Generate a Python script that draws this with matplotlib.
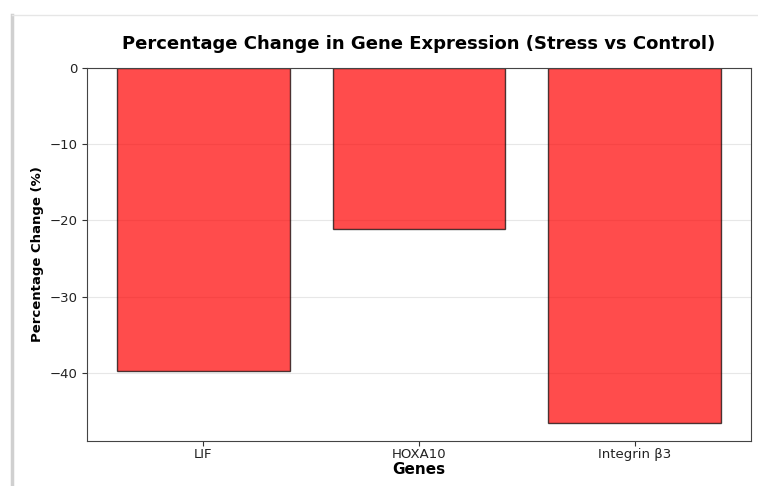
import matplotlib
matplotlib.use("Agg")
import matplotlib.pyplot as plt
from matplotlib.lines import Line2D

genes = ["LIF", "HOXA10", "Integrin β3"]
pct_change = [-39.8, -21.1, -46.6]

fig = plt.figure(figsize=(7.58, 4.86), dpi=100)
ax = fig.add_axes([87 / 758, 1 - 441 / 486, (751 - 87) / 758, (441 - 68) / 486])

ax.bar(genes, pct_change, color="red", alpha=0.7, edgecolor="black", width=0.8)
ax.set_ylim(min(pct_change) * 1.05, 0)
ax.set_yticks([0, -10, -20, -30, -40])
ax.grid(axis="y", alpha=0.3)
ax.set_axisbelow(True)
for s in ax.spines.values():
    s.set_color("#444444")
ax.tick_params(labelsize=9.5, colors="#333333", labelcolor="#222222")
ax.tick_params(axis="x", pad=1.5)
ax.set_title("Percentage Change in Gene Expression (Stress vs Control)",
             fontsize=13, fontweight="bold", pad=14)
ax.set_xlabel("Genes", fontsize=11, fontweight="bold", labelpad=1)
ax.set_ylabel("Percentage Change (%)", fontsize=9.5, fontweight="bold")

# screenshot frame lines
fig.add_artist(Line2D([12 / 758, 12 / 758], [0, 1 - 15 / 486], color="#d0d0d0", lw=2.5))
fig.add_artist(Line2D([12 / 758, 1], [1 - 15 / 486, 1 - 15 / 486], color="#e6e6e6", lw=1))

fig.savefig("out.png", dpi=100)
